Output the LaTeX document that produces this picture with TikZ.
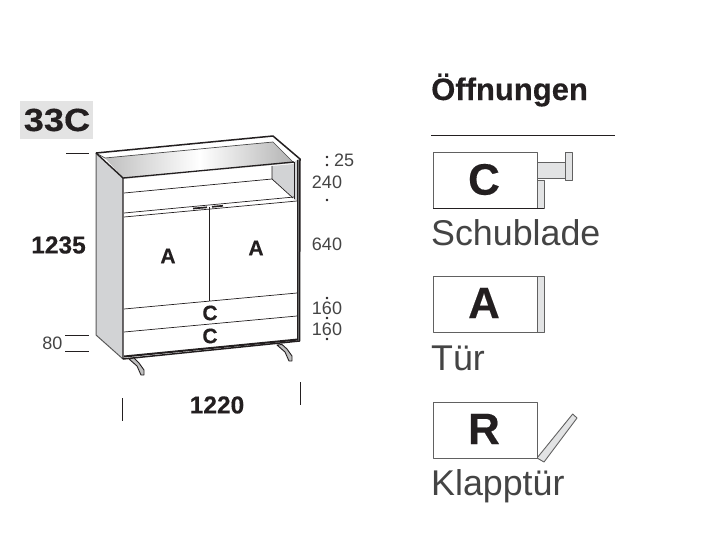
\documentclass[tikz,border=0pt]{standalone}
\usepackage{fontspec}
\setmainfont{Liberation Sans}
\newfontfamily\heavy[BoldFeatures={FakeBold=0.35}]{Liberation Sans}
\definecolor{ink}{HTML}{231F20}
\definecolor{soft}{HTML}{444444}
\definecolor{panel}{HTML}{D2D3D5}
\definecolor{strip}{HTML}{E2E3E4}
\tikzset{
  x=1pt,y=-1pt,
  edge/.style={draw=ink,line width=.9pt,line join=round},
  thin edge/.style={draw=ink,line width=.7pt},
  boxline/.style={draw=black!62,line width=.9pt,line join=round},
  stripbox/.style={draw=black!62,fill=strip,line width=.9pt,line join=round},
  tick/.style={draw=ink,line width=.8pt},
  legpart/.style={draw=ink,fill=black!25,line width=.9pt,line join=round},
  dimdot/.style={circle,fill=ink,inner sep=0pt,minimum size=2.8pt},
  dimtext/.style={font=\fontsize{18}{18}\selectfont,text=soft,inner sep=0pt},
  bigdim/.style={font=\heavy\fontsize{24.5}{24.5}\selectfont\bfseries,text=ink,inner sep=0pt},
  frontlabel/.style={font=\heavy\fontsize{21}{21}\selectfont\bfseries,text=ink,inner sep=0pt},
  legendletter/.style={font=\heavy\fontsize{44}{44}\selectfont\bfseries,text=ink,inner sep=0pt},
  legendtext/.style={font=\fontsize{35.8}{35.8}\selectfont,text=soft,inner sep=0pt,anchor=base west},
}
\begin{document}
\begin{tikzpicture}
\useasboundingbox (0,0) rectangle (717,557);
% type tag
\fill[black!11] (20,101) rectangle (93,139);
\node[font=\heavy\fontsize{32}{32}\selectfont\bfseries,text=ink,inner sep=0pt,xscale=1.13] (tag) at (57,120) {33C};
% cabinet: side and top
\fill[panel] (96,153) -- (123,178) -- (123,358) -- (96,335) -- cycle;
\fill[white] (96,153) -- (273,136) -- (300,159) -- (123,178) -- cycle;
\begin{scope}
\clip (105,158) -- (273,142) -- (294,163) -- (124,179) -- cycle;
\shade[left color=black!25,right color=black!30,middle color=white] (105,136) rectangle (294,180);
\end{scope}
\draw[thin edge,draw=black!70] (105,158) -- (273,142) -- (294,163);
\draw[thin edge,draw=black!70] (96,153) -- (105,158);
% niche
\fill[panel] (272,166) -- (294,164) -- (294,198) -- (272,179) -- cycle;
\draw[thin edge] (272,166) -- (272,179) -- (293,198);
\draw[thin edge] (124,193) -- (272,179);
% right frame strip
\fill[panel] (294,162) -- (297,160) -- (297,200) -- (294,200) -- cycle;
\fill[black!55] (297,160) -- (300,159) -- (299.5,340) -- (297,340) -- cycle;
% outer outline
\draw[edge,draw=black!65,line width=1pt] (96,153) -- (96,335) -- (123,359);
\draw[edge,line width=1.5pt] (96,153) -- (273,136) -- (300,159) -- (299.5,341) -- (123,359);
\draw[edge,line width=1.4pt] (96,153) -- (123,178) -- (123,359);
\draw[edge,line width=1.3pt] (123,178) -- (294,162);
\draw[thin edge,line width=1pt] (294,162) -- (294,199);
\draw[thin edge,line width=.8pt] (297,160) -- (297,340);
% upper front
\draw[thin edge] (124,213) -- (294,197);
\draw[thin edge] (124,217) -- (297,201);
\draw[edge,line width=1.7pt] (193,208.5) -- (207,207.3);
\draw[edge,line width=1.7pt] (212,206.8) -- (223,205.8);
% doors and drawers
\draw[thin edge] (209,207) -- (209,301);
\draw[thin edge] (124,309) -- (297,293);
\draw[thin edge] (124,332) -- (297,316);
\draw[edge,line width=2pt] (124,356.5) -- (298,339.5);
% legs
\draw[legpart] (129,359) -- (137,366) -- (141,375) -- (144,375) -- (144,370) -- (139,363) -- (134,358) -- cycle;
\draw[legpart] (277,345) -- (285,352) -- (289,361) -- (292,361) -- (292,356) -- (287,349) -- (282,344.5) -- cycle;
% front labels
\node[frontlabel] (doorL) at (168,256) {A};
\node[frontlabel] (doorR) at (256,248) {A};
\node[frontlabel] (drawerU) at (210,313) {C};
\node[frontlabel] (drawerL) at (210,336) {C};
% dimensions
\draw[tick] (66,153) -- (89,153);
\draw[tick] (65,335) -- (89,335);
\draw[tick] (65,351) -- (89,351);
\draw[tick] (122,398) -- (122,421);
\draw[tick] (300,382) -- (300,405);
\node[bigdim] (height) at (58.5,245) {1235};
\node[bigdim] (width) at (217,405) {1220};
\node[dimtext] (d80) at (52.5,343) {80};
\node[dimtext,anchor=west] (d25) at (334,160) {25};
\node[dimtext] (d240) at (327,182) {240};
\node[dimtext] (d640) at (327,244) {640};
\node[dimtext] (d160a) at (327,308) {160};
\node[dimtext] (d160b) at (327,329) {160};
\node[dimdot] (p1) at (327,157) {};
\node[dimdot] (p2) at (327,165) {};
\node[dimdot] (p3) at (327,200) {};
\node[dimdot] (p4) at (327,298) {};
\node[dimdot] (p5) at (327,318) {};
\node[dimdot] (p6) at (327,339) {};
% legend
\node[font=\heavy\fontsize{31}{31}\selectfont\bfseries,text=ink,inner sep=0pt,anchor=base west] (title) at (431,100) {Öffnungen};
\draw[draw=ink,line width=.9pt] (431,135) -- (615,135);
% C
\draw[stripbox] (537,162) rectangle (565,178);
\draw[stripbox] (565,152) rectangle (572,180);
\draw[stripbox] (537,180) rectangle (544,208);
\draw[boxline,fill=white] (433,152) rectangle (537,208);
\draw[draw=ink,line width=.9pt] (433,208) -- (544,208);
\node[legendletter] (lc) at (484,179.5) {C};
\node[legendtext] (schub) at (431,245) {Schublade};
% A
\draw[stripbox] (537,276) rectangle (544,332);
\draw[boxline,fill=white] (433,276) rectangle (537,332);
\node[legendletter] (la) at (484,303) {A};
\node[legendtext] (tuer) at (431,370) {Tür};
% R
\draw[stripbox] (537,458) -- (572.7,414) -- (577,418) -- (544,462) -- cycle;
\draw[boxline,fill=white] (433,402) rectangle (537,458);
\node[legendletter] (lr) at (484,429) {R};
\node[legendtext] (klapp) at (431,495) {Klapptür};
\end{tikzpicture}
\end{document}
